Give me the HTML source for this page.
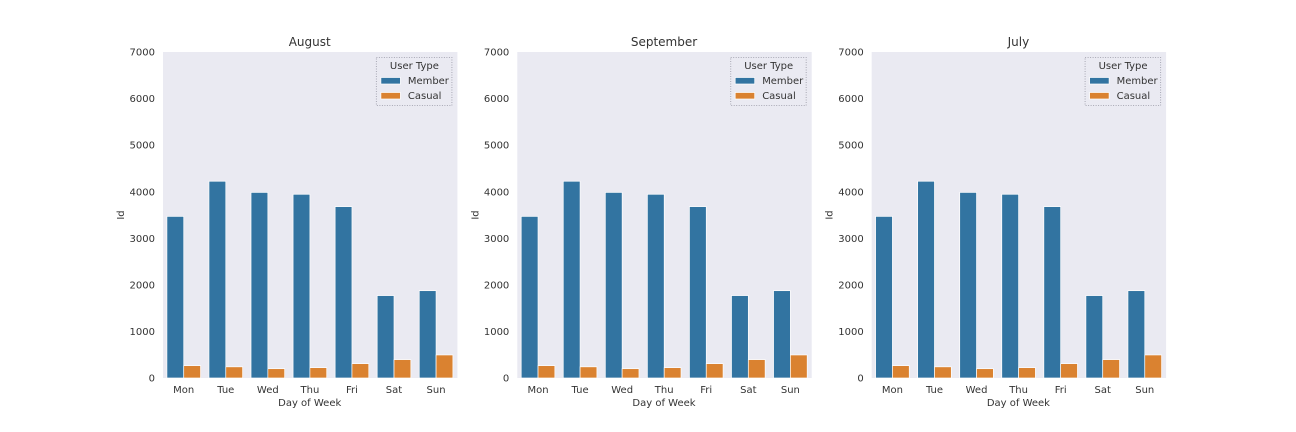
<!DOCTYPE html>
<html lang="en">
<head>
<meta charset="utf-8">
<title>Rides by Day of Week</title>
<style>
html,body{margin:0;padding:0;background:#fff;width:1296px;height:432px;overflow:hidden}
svg{display:block}
text{font-family:"DejaVu Sans","Liberation Sans",sans-serif;fill:#333333}
</style>
</head>
<body>
<svg id="chart" width="1296" height="432" viewBox="0 0 1296 432" xmlns="http://www.w3.org/2000/svg"></svg>
<script>
const days = ["Mon", "Tue", "Wed", "Thu", "Fri", "Sat", "Sun"];
const yTicks = [0, 1000, 2000, 3000, 4000, 5000, 6000, 7000];
const panelTitles = ["August", "September", "July"];
const augustMember = [3470, 4225, 3985, 3945, 3680, 1770, 1875];
const augustCasual = [265, 240, 200, 222, 308, 395, 495];
const septemberMember = [3470, 4225, 3985, 3945, 3680, 1770, 1875];
const septemberCasual = [265, 240, 200, 222, 308, 395, 495];
const julyMember = [3470, 4225, 3985, 3945, 3680, 1770, 1875];
const julyCasual = [265, 240, 200, 222, 308, 395, 495];
const memberSeries = [augustMember, septemberMember, julyMember];
const casualSeries = [augustCasual, septemberCasual, julyCasual];

const svg = document.getElementById('chart');
const NS = 'http://www.w3.org/2000/svg';
const panelLefts = [163, 517.3, 871.7];
const panelW = 294.4, top_ = 52, bottom_ = 378;
const yMax = 7000;
const memberColor = '#3274a1', casualColor = '#da8230';

function mk(tag, attrs, parent, txt) {
  const el = document.createElementNS(NS, tag);
  for (const k in attrs) el.setAttribute(k, attrs[k]);
  if (txt !== undefined) el.textContent = txt;
  parent.appendChild(el);
  return el;
}
function yScale(v) { return bottom_ - (v / yMax) * (bottom_ - top_); }

panelTitles.forEach(function (title, p) {
  const left = panelLefts[p];
  const step = panelW / days.length;
  const barW = step * 0.4;
  const xCenter = function (i) { return left - 0.3 + step * (i + 0.5); };

  const g = mk('g', {}, svg);
  
  

  const bg = mk('rect', { x: left, y: top_, width: panelW, height: bottom_ - top_, fill: '#eaeaf2' }, g);
  
  

  const t = mk('text', { x: left + panelW / 2 - 0.5, y: 46, 'text-anchor': 'middle', 'font-size': 12 }, g, title);
  
  

  yTicks.forEach(function (v) {
    const tick = mk('text', { x: left - 8, y: yScale(v) + 3.6, 'text-anchor': 'end', 'font-size': 10 }, g, String(v));
    
    
  });

  days.forEach(function (d, i) {
    const mv = memberSeries[p][i], cv = casualSeries[p][i];
    const mb = mk('rect', { x: xCenter(i) - barW, y: yScale(mv), width: barW, height: bottom_ - yScale(mv), fill: memberColor, stroke: '#fff', 'stroke-width': 0.7 }, g);
    
    
    const cb = mk('rect', { x: xCenter(i), y: yScale(cv), width: barW, height: bottom_ - yScale(cv), fill: casualColor, stroke: '#fff', 'stroke-width': 0.7 }, g);
    
    
    const xl = mk('text', { x: xCenter(i), y: 393, 'text-anchor': 'middle', 'font-size': 10 }, g, d);
    
    
  });

  const xt = mk('text', { x: left + panelW / 2 - 0.5, y: 406, 'text-anchor': 'middle', 'font-size': 10 }, g, 'Day of Week');
  
  

  const yt = mk('text', { x: 0, y: 0, 'text-anchor': 'middle', 'font-size': 10, transform: 'translate(' + (left - 39) + ',215) rotate(-90)' }, g, 'Id');
  
  

  const lg = mk('g', {}, g);
  
  
  const lx = left + panelW - 81;
  const box = mk('rect', { x: lx, y: 57.5, width: 75.5, height: 48, fill: '#eaeaf2', stroke: '#a8a8b4', 'stroke-width': 1, 'stroke-dasharray': '1 1.5' }, lg);
  
  
  const lt = mk('text', { x: lx + 38, y: 69, 'text-anchor': 'middle', 'font-size': 10 }, lg, 'User Type');
  
  
  const s1 = mk('rect', { x: lx + 4.5, y: 77.5, width: 19.5, height: 6.5, fill: memberColor, stroke: '#fff', 'stroke-width': 0.7 }, lg);
  
  
  const l1 = mk('text', { x: lx + 31.5, y: 84, 'font-size': 10, textLength: 41, lengthAdjust: 'spacingAndGlyphs' }, lg, 'Member');
  
  
  const s2 = mk('rect', { x: lx + 4.5, y: 92.5, width: 19.5, height: 6.5, fill: casualColor, stroke: '#fff', 'stroke-width': 0.7 }, lg);
  
  
  const l2 = mk('text', { x: lx + 31.5, y: 99, 'font-size': 10 }, lg, 'Casual');
  
  
});
</script>
</body>
</html>
